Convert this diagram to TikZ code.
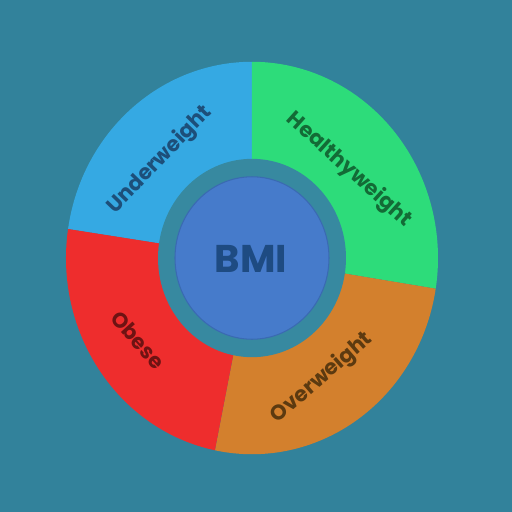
\documentclass[tikz,border=0pt]{standalone}
\usepackage{fontspec}
\setmainfont{Poppins}
\definecolor{bgteal}{RGB}{50,130,155}
\definecolor{gapteal}{RGB}{55,137,160}
\definecolor{underblue}{RGB}{53,169,227}
\definecolor{healthgreen}{RGB}{45,220,122}
\definecolor{overorange}{RGB}{211,128,45}
\definecolor{obesered}{RGB}{238,45,45}
\definecolor{bmiblue}{RGB}{70,123,203}
\definecolor{bmiedge}{RGB}{58,106,178}
\tikzset{seglabel/.style={font=\bfseries\fontsize{12}{14}\selectfont,inner sep=0pt}}

\begin{document}
\begin{tikzpicture}[x=0.02cm,y=0.02cm]
\useasboundingbox[fill=bgteal] (-252,-254) rectangle (260,258);
\begin{scope}[yscale=1.055]
\foreach \a/\b/\c in {90/171.5/underblue,-9/90/healthgreen,-101.5/-9/overorange,171.5/258.5/obesered}
  {\fill[\c] (0,0) -- (\a:186) arc[start angle=\a,end angle=\b,radius=186] -- cycle;}
\fill[gapteal] (0,0) circle[radius=94];
\filldraw[fill=bmiblue,draw=bmiedge,line width=0.6pt] (0,0) circle[radius=77];
\end{scope}
\node[seglabel,text={rgb,255:red,29;green,79;blue,122},rotate=46] (under) at (-92,98) {Underweight};
\node[seglabel,text={rgb,255:red,19;green,107;blue,54},rotate=-42] (healthy) at (97,88) {Healthyweight};
\node[seglabel,text={rgb,255:red,92;green,58;blue,16},rotate=41] (over) at (70,-120) {Overweight};
\node[seglabel,text={rgb,255:red,110;green,19;blue,19},rotate=-48] (obese) at (-114,-82) {Obese};
\node[font=\bfseries\fontsize{22}{26}\selectfont,text={rgb,255:red,30;green,75;blue,130}] (bmi) at (-1,-1) {BMI};
\end{tikzpicture}
\end{document}
